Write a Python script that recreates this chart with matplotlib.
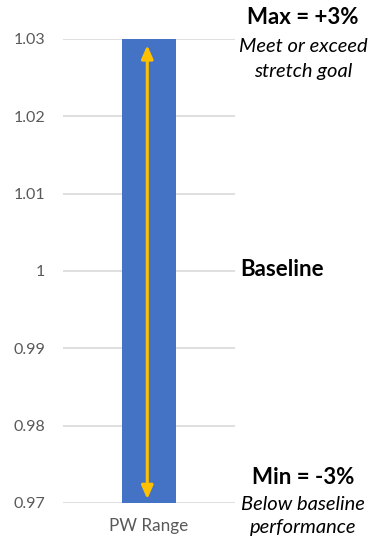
import matplotlib.pyplot as plt

categories = ['PW Range']
range_low = [0.97]
range_high = [1.03]
arrow_low = [0.9705]
arrow_high = [1.0292]
yticks = [0.97, 0.98, 0.99, 1.0, 1.01, 1.02, 1.03]
ytick_labels = ['0.97', '0.98', '0.99', '1', '1.01', '1.02', '1.03']

plt.rcParams['font.family'] = ['Lato', 'DejaVu Sans']

fig = plt.figure(figsize=(3.73, 5.40), dpi=100)
ax = fig.add_axes([63/373, 1 - 503/540, 172/373, 464/540])

x = list(range(len(categories)))
heights = [h - l for h, l in zip(range_high, range_low)]
ax.bar(x, heights, bottom=range_low, width=0.31, color='#4472C4', zorder=2)

for xi, lo, hi in zip(x, arrow_low, arrow_high):
    ax.annotate('', xy=(xi - 0.01, hi), xytext=(xi - 0.01, lo),
                arrowprops=dict(arrowstyle='<|-|>,head_length=0.8,head_width=0.35',
                                color='#FFC000', lw=2.2, shrinkA=0, shrinkB=0),
                zorder=3)

ax.set_xlim(-0.5, 0.5)
ax.set_ylim(0.97, 1.03)
ax.set_yticks(yticks)
ax.set_yticklabels(ytick_labels)
ax.set_xticks(x)
ax.set_xticklabels(categories)
ax.grid(axis='y', color='#D9D9D9', lw=1.2, zorder=0)
ax.tick_params(length=0, labelsize=11.5, colors='#595959', pad=13)
ax.tick_params(axis='x', labelsize=12.3, pad=11)
for s in ax.spines.values():
    s.set_visible(False)

cx = 303/373
fig.text(cx, 1 - 18/540, 'Max = +3%', ha='center', va='center',
         fontsize=16, fontweight='bold', color='black')
fig.text(cx, 1 - 46/540, 'Meet or exceed', ha='center', va='center',
         fontsize=14.5, style='italic', color='black')
fig.text(cx, 1 - 71/540, 'stretch goal', ha='center', va='center',
         fontsize=14.5, style='italic', color='black')
fig.text(240/373, 1 - 270/540, 'Baseline', ha='left', va='center',
         fontsize=16, fontweight='bold', color='black')
fig.text(cx, 1 - 477/540, 'Min = -3%', ha='center', va='center',
         fontsize=16, fontweight='bold', color='black')
fig.text(cx, 1 - 504/540, 'Below baseline', ha='center', va='center',
         fontsize=14.5, style='italic', color='black')
fig.text(cx, 1 - 528/540, 'performance', ha='center', va='center',
         fontsize=14.5, style='italic', color='black')

fig.savefig('out.png', dpi=100)
